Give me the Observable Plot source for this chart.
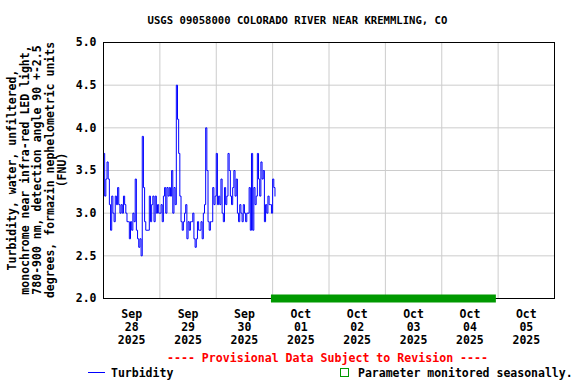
<!DOCTYPE html>
<html><head><meta charset="utf-8">
<script src="https://cdn.jsdelivr.net/npm/d3@7"></script>
<script src="https://cdn.jsdelivr.net/npm/@observablehq/plot@0.6"></script>
<style>
body{margin:0;background:#fff}
#chart{position:relative;width:576px;height:384px}
</style>
</head><body><div id="chart"></div>
<script>
const titleText = "USGS 09058000 COLORADO RIVER NEAR KREMMLING, CO";
const yLabelLines = [
  "Turbidity, water, unfiltered,",
  "monochrome near infra-red LED light,",
  "780-900 nm, detection angle 90 +-2.5",
  "degrees, formazin nephelometric units",
  "(FNU)"
];
const provisionalText = "---- Provisional Data Subject to Revision ----";
const seriesName = "Turbidity";
const seasonalLabel = "Parameter monitored seasonally.";

// Turbidity readings (FNU), every 30 minutes from seriesStart
const seriesStart = "2025-09-28T00:00:00Z";
const intervalMinutes = 30;
const turbidity = [
  3.7,3.2,3.4,3.6,3.4,3.1,2.8,3.2,3.0,2.9,
  3.2,3.1,3.3,3.1,3.0,3.1,3.0,3.2,3.1,3.0,
  2.9,2.9,2.7,2.9,2.8,3.0,2.9,3.4,2.8,2.7,
  2.6,2.7,2.5,3.9,3.3,2.9,2.8,2.8,2.8,3.2,
  2.9,3.1,3.2,2.9,3.2,3.0,3.1,3.0,3.0,3.1,
  2.9,3.2,3.3,3.0,3.3,3.2,3.3,3.2,3.5,3.0,
  3.3,3.1,4.5,4.1,3.7,3.2,2.9,2.8,2.9,3.0,
  3.1,2.7,2.9,2.8,2.9,2.9,3.0,2.7,2.6,2.7,
  2.9,2.8,2.8,2.9,2.7,3.0,3.1,4.0,3.5,2.9,
  2.8,2.9,2.9,3.3,3.1,3.2,3.7,3.1,3.2,3.1,
  3.4,3.0,2.9,3.3,3.1,3.2,3.7,3.5,3.2,3.1,
  3.3,3.5,3.2,3.4,3.0,2.9,3.1,3.0,2.9,3.1,
  3.0,2.9,3.0,3.0,3.3,2.8,3.7,2.8,3.3,3.1,
  3.2,3.7,3.4,3.2,3.6,3.4,3.5,2.9,3.1,3.0,
  3.2,3.1,3.1,3.0,3.4,3.3,3.2
];
const seasonalStart = "2025-09-30T23:30:00Z";
const seasonalEnd = "2025-10-04T23:15:00Z";
const seasonalLevel = 2.0;

const xDomain = ["2025-09-28T00:00:00Z", "2025-10-06T00:00:00Z"];
const yDomain = [2.0, 5.0];
const yTicks = [2.0, 2.5, 3.0, 3.5, 4.0, 4.5, 5.0];
const dayBounds = ["2025-09-29","2025-09-30","2025-10-01","2025-10-02","2025-10-03","2025-10-04","2025-10-05"];
const dayCenters = ["2025-09-28T12:00:00Z","2025-09-29T12:00:00Z","2025-09-30T12:00:00Z","2025-10-01T12:00:00Z","2025-10-02T12:00:00Z","2025-10-03T12:00:00Z","2025-10-04T12:00:00Z","2025-10-05T12:00:00Z"];
const dayLabels = ["Sep\n28\n2025","Sep\n29\n2025","Sep\n30\n2025","Oct\n01\n2025","Oct\n02\n2025","Oct\n03\n2025","Oct\n04\n2025","Oct\n05\n2025"];

const t0 = new Date(seriesStart).getTime();
const data = turbidity.map((v, i) => ({t: new Date(t0 + i * intervalMinutes * 60000), v}));
const labelByTime = new Map(dayCenters.map((d, i) => [new Date(d).getTime(), dayLabels[i]]));

const FONT = "DejaVu Sans Mono";
const GREEN = "#009900";

const chart = Plot.plot({
  width: 576, height: 384,
  marginTop: 42, marginLeft: 103, marginRight: 22, marginBottom: 86,
  style: {fontFamily: FONT, fontWeight: "bold", fontSize: "11.5px", background: "white", color: "black", overflow: "visible"},
  x: {type: "utc", domain: xDomain.map(d => new Date(d))},
  y: {domain: yDomain},
  marks: [
    Plot.gridY(yTicks, {stroke: "#cccccc", strokeOpacity: 1}),
    Plot.gridX(dayBounds.map(d => new Date(d)), {stroke: "#cccccc", strokeOpacity: 1}),
    Plot.lineY(data, {x: "t", y: "v", stroke: "#0000ff", strokeWidth: 1, curve: "step-after"}),
    Plot.frame({stroke: "black"}),
    Plot.ruleY([seasonalLevel], {x1: new Date(seasonalStart), x2: new Date(seasonalEnd), stroke: GREEN, strokeWidth: 8, clip: false}),
    Plot.axisY(yTicks, {tickSize: 0, tickPadding: 7, tickFormat: d3.format(".1f"), label: null, fontSize: "11.5px"}),
    Plot.axisX(dayCenters.map(d => new Date(d)), {tickSize: 0, tickPadding: 11, tickFormat: d => labelByTime.get(d.getTime()), label: null, lineHeight: 1.1, fontSize: "11.5px"})
  ]
});

const svg = d3.select(chart);
svg.append("text").attr("x", 297.5).attr("y", 24).attr("text-anchor", "middle")
  .attr("font-family", FONT).attr("font-weight", "bold").attr("font-size", "10.6px").text(titleText);

const yl = svg.append("text").attr("transform", "translate(16,170) rotate(-90)")
  .attr("text-anchor", "middle").attr("font-family", FONT).attr("font-weight", "bold").attr("font-size", "11.5px");
yLabelLines.forEach((s, i) => yl.append("tspan").attr("x", 0).attr("y", i * 12.6).text(s));

svg.append("text").attr("x", 327.5).attr("y", 362).attr("text-anchor", "middle").attr("fill", "#ff0000")
  .attr("font-family", FONT).attr("font-weight", "bold").attr("font-size", "11.6px").text(provisionalText);

svg.append("line").attr("x1", 88).attr("x2", 105).attr("y1", 372.5).attr("y2", 372.5).attr("stroke", "#0000ff");
svg.append("text").attr("x", 111).attr("y", 377).attr("text-anchor", "start").attr("font-family", FONT).attr("font-weight", "bold").attr("font-size", "11.5px").text(seriesName);
svg.append("rect").attr("x", 340.5).attr("y", 368.5).attr("width", 8).attr("height", 8).attr("fill", "none").attr("stroke", GREEN);
svg.append("text").attr("x", 358).attr("y", 377).attr("text-anchor", "start").attr("font-family", FONT).attr("font-weight", "bold").attr("font-size", "11.5px").text(seasonalLabel);

document.getElementById("chart").appendChild(chart);
</script>
</body></html>
